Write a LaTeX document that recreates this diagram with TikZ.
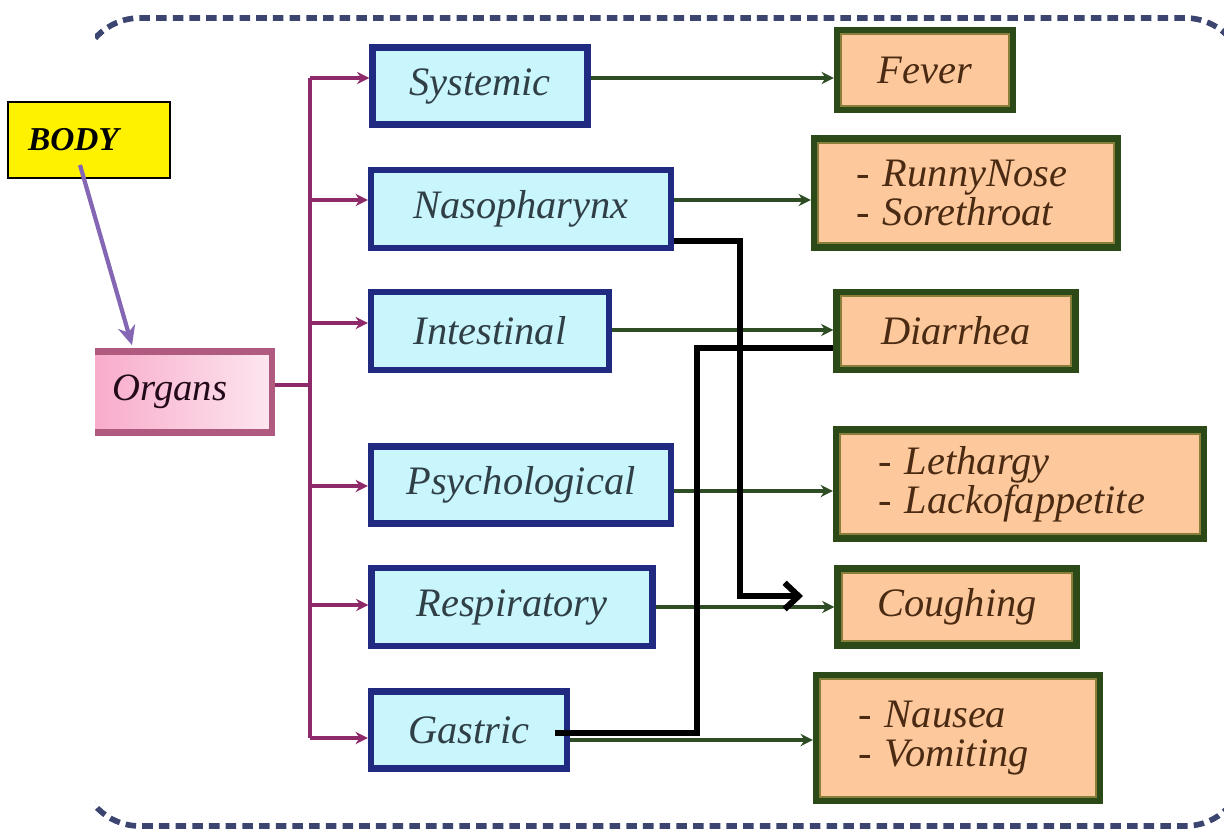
\documentclass[tikz,border=0pt]{standalone}
\usepackage{fontspec}
\setmainfont{Liberation Serif}
\usetikzlibrary{arrows.meta,calc}
\definecolor{framec}{HTML}{3B4570}
\definecolor{magc}{HTML}{8E2A6A}
\definecolor{navyc}{HTML}{1F2A80}
\definecolor{cyanf}{HTML}{C9F5FD}
\definecolor{orangef}{HTML}{FDC99C}
\definecolor{dgreen}{HTML}{2C4A17}
\definecolor{olivec}{HTML}{8A7F3A}
\definecolor{garrowc}{HTML}{2E4D24}
\definecolor{pinkb}{HTML}{B05A80}
\definecolor{pinkl}{HTML}{F7A0C4}
\definecolor{pinkr}{HTML}{FDE6EF}
\definecolor{purpc}{HTML}{8466B5}
\definecolor{btext}{HTML}{2F3F45}
\definecolor{otext}{HTML}{4A2A12}
\begin{document}
\begin{tikzpicture}[x=0.02cm,y=-0.02cm,
  bluebox/.style={draw=navyc,fill=cyanf,line width=3.6pt,text=btext,
    font=\fontsize{23}{22}\selectfont\itshape,inner sep=0pt},
  orbox/.style={draw=dgreen,line width=3.6pt,
    fill=orangef,text=otext,font=\fontsize{23}{22}\selectfont\itshape,
    align=left,inner sep=0pt,
    path picture={\draw[olivec,line width=1.3pt]
      ([shift={(2.4pt,2.4pt)}]path picture bounding box.south west) rectangle
      ([shift={(-2.4pt,-2.4pt)}]path picture bounding box.north east);}},
  listbox/.style={orbox,inner xsep=0.84cm},
  magline/.style={draw=magc,line width=2.2pt},
  magarrow/.style={magline,-{Stealth[length=7pt,width=7pt]}},
  garrow/.style={draw=garrowc,line width=2.1pt,-{Stealth[length=7pt,width=7pt]}},
  blk/.style={draw=black,line width=3.4pt},
  frame/.style={draw=framec,line width=3.2pt,dash pattern=on 6pt off 3.5pt}]
\useasboundingbox (0,0) rectangle (1224,832);
\fill[white] (0,0) rectangle (1224,832);
\begin{scope}
  \clip (95,0) rectangle (1224,832);
  \draw[frame,rounded corners=1.2cm] (80,18) rectangle (1245,826);
  \node[draw=pinkb,line width=3.8pt,left color=pinkl,right color=pinkr,
        minimum width=4.24cm,minimum height=1.62cm,inner sep=0pt,
        text=black!75!magc,font=\fontsize{22}{22}\selectfont\itshape]
        (org) at (166,392) {\hspace{0.16cm}Organs};
\end{scope}

% body
\node[draw=black,line width=1.3pt,fill=yellow,minimum width=3.24cm,minimum height=1.52cm,
      inner xsep=0.4cm,text width=2.44cm,align=left,
      font=\fontsize{19}{19}\selectfont\bfseries\itshape] (body) at (89,140) {BODY\\[-0.2cm]};
\coordinate (bs) at (80,165);
\draw[draw=purpc,line width=2.4pt,-{Stealth[length=11pt,width=10pt]}] (bs) -- ($(org.north)+(-34,-3)$);

% blue boxes
\node[bluebox,minimum width=4.3cm,minimum height=1.54cm] (sys) at (480,86) {Systemic};
\node[bluebox,minimum width=6.0cm,minimum height=1.56cm] (naso) at (521,209) {Nasopharynx};
\node[bluebox,minimum width=4.76cm,minimum height=1.56cm] (intest) at (490,331) {Intestinal};
\node[bluebox,minimum width=6.0cm,minimum height=1.54cm] (psych) at (521,485) {Psychological};
\node[bluebox,minimum width=5.62cm,minimum height=1.56cm] (resp) at (512,607) {Respiratory};
\node[bluebox,minimum width=3.92cm,minimum height=1.54cm] (gast) at (469,730) {Gastric};

% orange boxes
\node[orbox,minimum width=3.52cm,minimum height=1.6cm,align=center] (fever) at (925,70) {Fever};
\node[listbox,text width=4.4cm,minimum height=2.18cm] (runny) at (966,193) {- RunnyNose\\- Sorethroat};
\node[orbox,minimum width=4.78cm,minimum height=1.56cm,align=center] (diarr) at (956,331) {Diarrhea};
\node[listbox,text width=5.68cm,minimum height=2.18cm] (leth) at (1020,484) {- Lethargy\\- Lackofappetite};
\node[orbox,minimum width=4.78cm,minimum height=1.54cm,align=center] (cough) at (957,607) {Coughing};
\node[listbox,text width=4.0cm,minimum height=2.52cm] (naus) at (958,738) {- Nausea\\- Vomiting};

% magenta bus
\coordinate (bustop) at (310,78);
\coordinate (busbot) at (310,738);
\draw[magline] (org.east |- 0,385) -- (310,385);
\draw[magline] (bustop) -- (busbot);
\draw[magarrow] (bustop) -- (sys.west |- 0,78);
\draw[magarrow] (310,200) -- (naso.west |- 0,200);
\draw[magarrow] (310,323) -- (intest.west |- 0,323);
\draw[magarrow] (310,486) -- (psych.west |- 0,486);
\draw[magarrow] (310,605) -- (resp.west |- 0,605);
\draw[magarrow] (busbot) -- (gast.west |- 0,738);

% green arrows
\draw[garrow] (sys.east |- 0,78) -- (fever.west |- 0,78);
\draw[garrow] (naso.east |- 0,200) -- (runny.west |- 0,200);
\draw[garrow] (intest.east |- 0,330) -- (diarr.west |- 0,330);
\draw[garrow] (psych.east |- 0,491) -- (leth.west |- 0,491);
\draw[garrow] (resp.east |- 0,607) -- (cough.west |- 0,607);
\draw[garrow] (gast.east |- 0,740) -- (naus.west |- 0,740);

% black connectors
\coordinate (ctip) at (803,596);
\draw[blk,-{Straight Barb[length=8pt,width=15pt]}] (naso.east |- 0,241) -- (740,241) -- (740,596) -- (ctip);
\coordinate (gs) at (555,733);
\draw[blk] (gs) -- (697,733) -- (697,348) -- (diarr.west |- 0,348);
\end{tikzpicture}
\end{document}
